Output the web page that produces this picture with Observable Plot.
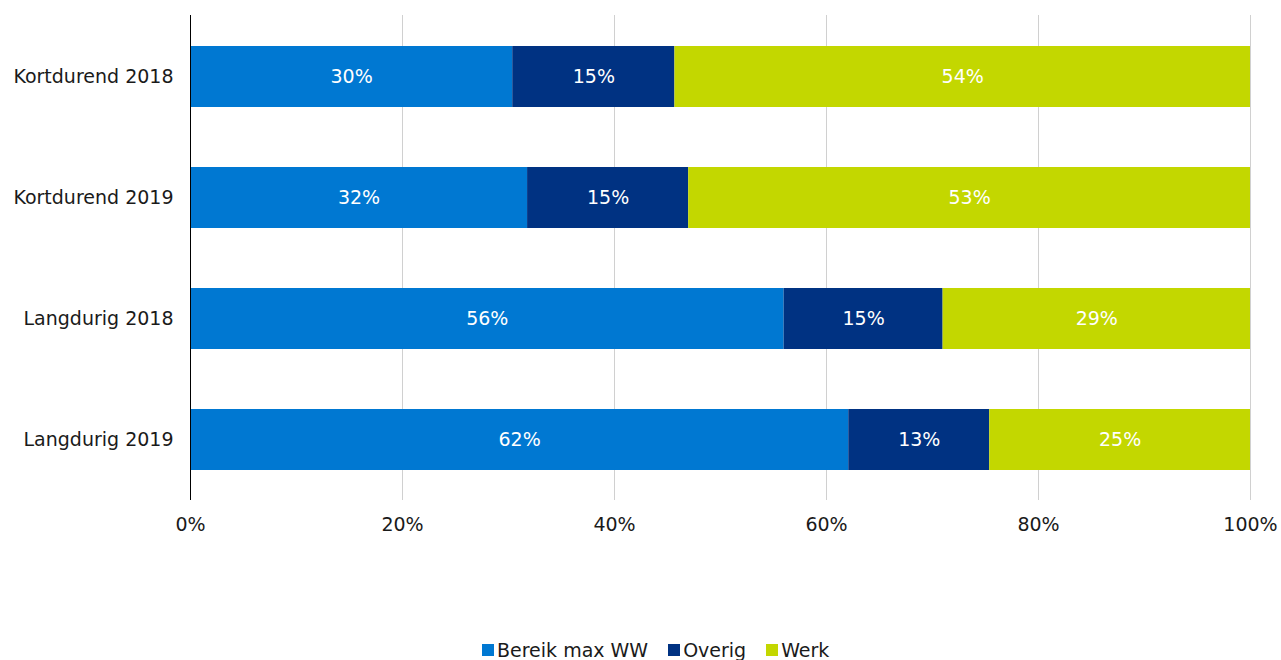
<!DOCTYPE html>
<html>
<head>
<meta charset="utf-8">
<script src="https://cdn.jsdelivr.net/npm/d3@7"></script>
<script src="https://cdn.jsdelivr.net/npm/@observablehq/plot@0.6"></script>
<style>
  html, body { margin: 0; padding: 0; background: #fff; }
  body { font-family: "DejaVu Sans", Verdana, sans-serif; width: 1281px; height: 660px; overflow: hidden; position: relative; }
  #legend { position: absolute; left: 482px; top: 638px; display: flex; align-items: center; font-size: 19px; color: #1a1a1a; line-height: 24px; }
  .item { display: flex; align-items: center; margin-right: 20px; }
  .sw { width: 12px; height: 12px; margin-right: 3px; }
</style>
</head>
<body>
<div id="chart"></div>
<div id="legend"></div>
<script>
const categories = ["Kortdurend 2018", "Kortdurend 2019", "Langdurig 2018", "Langdurig 2019"];
const seriesNames = ["Bereik max WW", "Overig", "Werk"];
const seriesColors = ["#0078d2", "#003282", "#c3d700"];
const bereikMaxWW = [30.4, 31.8, 56.0, 62.1];
const overig = [15.3, 15.2, 15.0, 13.3];
const werk = [54.3, 53.0, 29.0, 24.6];
const xTicks = [0, 0.2, 0.4, 0.6, 0.8, 1];

const seriesValues = [bereikMaxWW, overig, werk];
const data = [];
seriesNames.forEach((s, si) => {
  categories.forEach((c, ci) => data.push({cat: c, series: s, value: seriesValues[si][ci]}));
});

const W = 1281, H = 560;
const chart = Plot.plot({
  width: W,
  height: H,
  marginLeft: 190,
  marginRight: 31,
  marginTop: 15,
  marginBottom: 60,
  style: {fontFamily: "'DejaVu Sans', Verdana, sans-serif", fontSize: "19px", color: "#1a1a1a", background: "#fff"},
  x: {domain: [0, 1], ticks: xTicks, tickFormat: d => Math.round(d * 100) + "%", tickSize: 0, tickPadding: 17, label: null},
  y: {domain: categories, paddingInner: 0.5, paddingOuter: 0.25, tickSize: 0, tickPadding: 17, label: null},
  color: {domain: seriesNames, range: seriesColors},
  marks: [
    Plot.gridX(xTicks.filter(d => d > 0), {stroke: "#d0d0d0", strokeOpacity: 1, strokeWidth: 1}),
    Plot.barX(data, Plot.stackX({x: "value", y: "cat", fill: "series", z: "series", offset: "normalize"})),
    Plot.text(data, Plot.stackX({x: "value", y: "cat", z: "series", offset: "normalize", text: d => Math.round(d.value) + "%", fill: "white", fontSize: 19})),
    Plot.ruleX([0], {stroke: "black", strokeWidth: 1})
  ]
});
document.getElementById("chart").appendChild(chart);

const legend = document.getElementById("legend");
seriesNames.forEach((s, i) => {
  const it = document.createElement("div");
  it.className = "item";
  const sw = document.createElement("div");
  sw.className = "sw";
  sw.style.background = seriesColors[i];
  const t = document.createElement("span");
  t.textContent = s;
  it.appendChild(sw); it.appendChild(t);
  legend.appendChild(it);
});
</script>
</body>
</html>
